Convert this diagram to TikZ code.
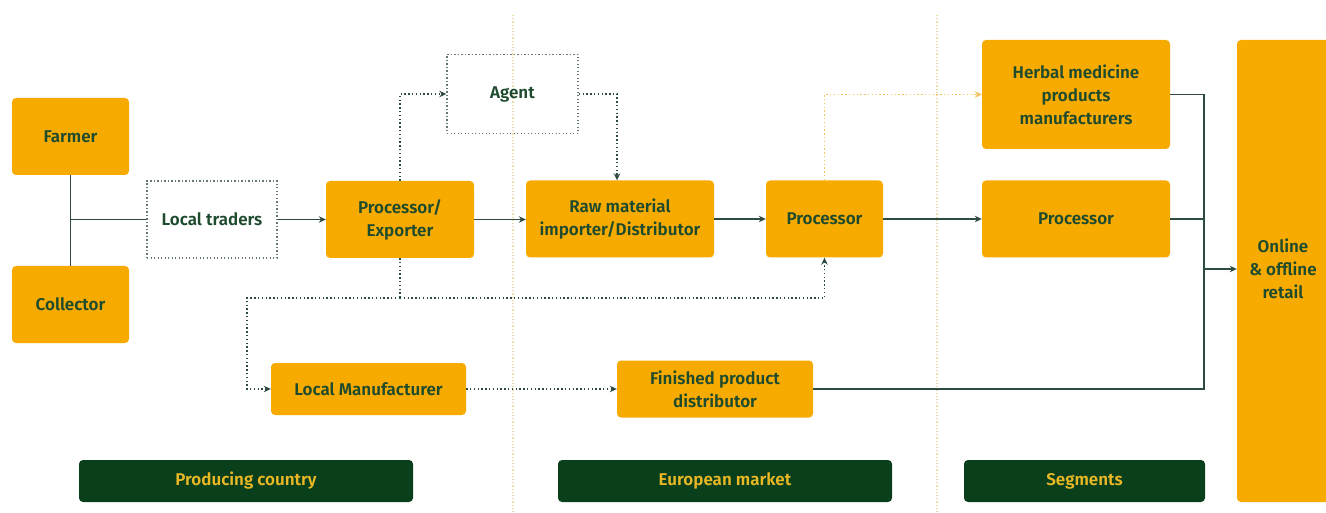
\documentclass[tikz,border=0pt]{standalone}
\usepackage{fontspec}
\setmainfont{Fira Sans}[BoldFont={Fira Sans SemiBold}]
\usetikzlibrary{arrows.meta}
\definecolor{amber}{HTML}{F7AB00}
\definecolor{forest}{HTML}{0A3F1C}
\definecolor{ink}{HTML}{1E4A2E}
\definecolor{wire}{HTML}{2E4B40}
\definecolor{gold}{HTML}{E9B824}
\definecolor{divider}{HTML}{EBD9A8}
\definecolor{softamber}{HTML}{F3C25A}
\begin{document}
\begin{tikzpicture}[x=1pt,y=-1pt,
  boxfont/.style={font=\bfseries\fontsize{17}{23}\selectfont},
  box/.style={fill=amber, rounded corners=4pt, text=ink, boxfont, align=center, inner sep=0pt},
  dotbox/.style={draw=wire!75, dash pattern=on 1.3pt off 2.2pt, line width=1.4pt, text=ink, boxfont, align=center, inner sep=0pt},
  band/.style={fill=forest, rounded corners=4pt, text=gold, boxfont, inner sep=0pt, minimum height=42},
  link/.style={draw=wire, line width=1.9pt},
  dotlink/.style={draw=wire, line width=1.6pt, dash pattern=on 1.4pt off 2.4pt},
  amberlink/.style={draw=softamber, line width=1.6pt, dash pattern=on 1.4pt off 2.4pt},
  tip/.style={-{Stealth[length=7pt,width=6.5pt]}}
]
\useasboundingbox (0,0) rectangle (1326,513);

% market dividers
\draw[divider, line width=1.2pt, dash pattern=on 1.2pt off 2pt] (513,15) -- (513,513);
\draw[divider, line width=1.2pt, dash pattern=on 1.2pt off 2pt] (937,15) -- (937,513);

% actors
\node[box, minimum width=117, minimum height=77] (farmer) at (70.5,136.5) {Farmer};
\node[box, minimum width=117, minimum height=77] (collector) at (70.5,304.5) {Collector};
\node[dotbox, minimum width=130, minimum height=77] (traders) at (212,219.5) {Local traders};
\node[box, minimum width=148, minimum height=77] (procexp) at (400,219.5) {Processor/\\Exporter};
\node[dotbox, minimum width=131, minimum height=79] (agent) at (512.5,94) {Agent};
\node[box, minimum width=188, minimum height=77] (raw) at (620,219) {Raw material\\importer/Distributor};
\node[box, minimum width=117, minimum height=77] (proc) at (824.5,219) {Processor};
\node[box, minimum width=188, minimum height=109] (herbal) at (1076,94.5) {Herbal medicine\\products\\manufacturers};
\node[box, minimum width=188, minimum height=77] (segproc) at (1076,219) {Processor};
\node[box, minimum width=195, minimum height=52] (localman) at (368.5,389) {Local Manufacturer};
\node[box, minimum width=196, minimum height=57] (fpd) at (715,389) {Finished product\\distributor};
\node[box, minimum width=100, minimum height=462] (retail) at (1287,271) {\hspace*{-8pt}\begin{tabular}{@{}c@{}}Online\\\&~offline\\retail\end{tabular}};

% region bands
\node[band, minimum width=334] (producing) at (246,481) {Producing country};
\node[band, minimum width=334] (european) at (725,481) {European market};
\node[band, minimum width=241] (segments) at (1084.5,481) {Segments};

% sourcing chain
\draw[link] (farmer.south) -- (collector.north);
\coordinate (gather) at (farmer.south |- traders.west);
\draw[link] (gather) -- (traders.west);
\draw[link, tip] (traders.east) -- (procexp.west);
\draw[link, tip] (procexp.east) -- (raw.west |- procexp.east);
\draw[link, tip] (raw.east) -- (proc.west);
\draw[link, tip] (proc.east) -- (segproc.west);

% agent route
\draw[dotlink, tip] (procexp.north) |- (agent.west);
\draw[dotlink, tip] (agent.east) -| ([xshift=-3pt]raw.north);
\draw[amberlink, tip] (proc.north) |- (herbal.west);

% direct and local manufacturing routes
\coordinate (split) at (procexp.south |- 0,298);
\coordinate (lmcorner) at (247,298);
\draw[dotlink] (procexp.south) -- (split);
\draw[dotlink, tip] (split) -| (proc.south);
\draw[dotlink, tip] (split) -- (lmcorner) |- (localman.west);
\draw[dotlink, tip] (localman.east) -- (fpd.west);

% to retail
\coordinate (bus) at (1204,269);
\draw[link] (herbal.east) -| (bus);
\draw[link] (segproc.east) -| (bus);
\draw[link] (fpd.east) -| (bus);
\draw[link, tip] (bus) -- (retail.west |- bus);
\end{tikzpicture}
\end{document}
